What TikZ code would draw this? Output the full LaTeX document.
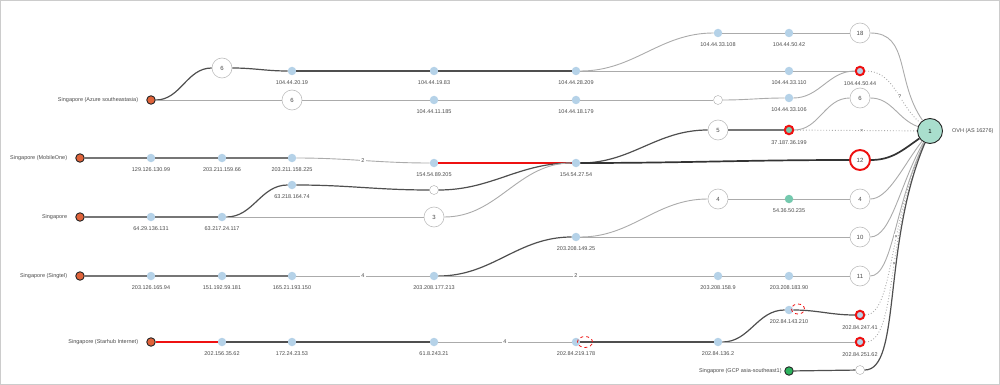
\documentclass[tikz,border=0pt]{standalone}
\usepackage{fontspec}
\setmainfont{Liberation Sans}
\usetikzlibrary{arrows,positioning,shapes.geometric}
\definecolor{linkdark}{HTML}{4F4F4F}
\definecolor{linkmid}{HTML}{767676}
\definecolor{linklight}{HTML}{ABABAB}
\definecolor{hopblue}{HTML}{B5D2E8}
\definecolor{srcorange}{HTML}{E0633A}
\definecolor{gcpgreen}{HTML}{2DB35E}
\definecolor{tealhop}{HTML}{74C9AE}
\definecolor{ovhteal}{HTML}{A9DECD}
\definecolor{txtgray}{HTML}{4A4A4A}
\definecolor{ringred}{HTML}{EE1111}
\tikzset{
  every label/.style={font=\fontsize{5.5}{6}\selectfont,text=txtgray,inner sep=0.5pt},
  srclab/.style={xshift=-2.5pt},
  gcplab/.style={xshift=3pt},
  ovhlab/.style={xshift=3.5pt},
  hop/.style={circle,fill=hopblue,minimum size=8.5pt,inner sep=0pt},
  tealnode/.style={hop,fill=tealhop},
  redhop/.style={hop,draw=ringred,line width=2pt,minimum size=8.5pt},
  emptyhop/.style={circle,draw=linklight,fill=white,minimum size=9pt,inner sep=0pt},
  numnode/.style={circle,draw=black!25,fill=white,line width=0.6pt,minimum size=20pt,inner sep=0pt,
    font=\fontsize{6}{7}\selectfont,text=txtgray},
  rednum/.style={numnode,draw=ringred,line width=1.9pt},
  src/.style={circle,fill=srcorange,draw=black!85,line width=0.9pt,minimum size=8.5pt,inner sep=0pt},
  gcp/.style={src,fill=gcpgreen},
  ovh/.style={circle,fill=ovhteal,draw=black!85,line width=0.9pt,minimum size=25pt,inner sep=0pt,
    font=\fontsize{6}{7}\selectfont},
  linkdark/.style={draw=linkdark,line width=1.2pt},
  linkmid/.style={draw=linkmid,line width=1.2pt},
  linklight/.style={draw=linklight,line width=0.9pt},
  linkred/.style={draw=ringred,line width=1.1pt},
  linkdot/.style={draw=linklight,dotted,line width=0.9pt},
  linkheavy/.style={draw=black!80,line width=1.7pt},
  elabel/.style={font=\fontsize{5.5}{6}\selectfont,fill=white,inner sep=1pt,text=txtgray},
  lossmark/.style={ellipse,draw=ringred,dashed,line width=0.8pt,inner sep=0pt}
}
\begin{document}
\begin{tikzpicture}[x=1pt,y=-1pt,label distance=5pt]
\useasboundingbox (0,0) rectangle (1000,385);
\draw[black!20,line width=1.2pt] (0.6,0.6) rectangle (999.4,384.4);
% destination
\node (ovh) [ovh,label={[ovhlab]right:OVH (AS 16276)}] at (930,131) {1};
% Singapore (Azure southeastasia)
\node (a0) [src,label={[srclab]left:Singapore (Azure southeastasia)}] at (151,100) {};
\node (a1) [numnode] at (222,68) {6};
\node (a2) [hop,label=below:104.44.20.19] at (292,71) {};
\node (a3) [hop,label=below:104.44.19.83] at (434,71) {};
\node (a4) [hop,label=below:104.44.28.209] at (576,71) {};
\node (a5) [hop,label=below:104.44.33.108] at (718,33) {};
\node (a6) [hop,label=below:104.44.50.42] at (789,33) {};
\node (a7) [numnode] at (860,33) {18};
\node (a8) [hop,label=below:104.44.33.110] at (789,71) {};
\node (a9) [redhop,label=below:104.44.50.44] at (860,71) {};
\node (a10) [numnode] at (292,100) {6};
\node (a11) [hop,label=below:104.44.11.185] at (434,100) {};
\node (a12) [hop,label=below:104.44.18.179] at (576,100) {};
\node (a13) [emptyhop] at (718,100) {};
\node (a14) [hop,label=below:104.44.33.106] at (789,98) {};
\node (a15) [numnode] at (860,98) {6};
% Singapore (MobileOne)
\node (b0) [src,label={[srclab]left:Singapore (MobileOne)}] at (80,158) {};
\node (b1) [hop,label=below:129.126.130.99] at (151,158) {};
\node (b2) [hop,label=below:203.211.159.66] at (222,158) {};
\node (b3) [hop,label=below:203.211.158.225] at (292,158) {};
\node (b4) [hop,label=below:154.54.89.205] at (434,163) {};
\node (b5) [hop,label=below:154.54.27.54] at (576,163) {};
\node (b6) [numnode] at (718,130) {5};
\node (b7) [redhop,fill=tealhop,label=below:37.187.36.199] at (789,130) {};
\node (b8) [rednum] at (860,160) {12};
% Singapore
\node (c0) [src,label={[srclab]left:Singapore}] at (80,217) {};
\node (c1) [hop,label=below:64.29.136.131] at (151,217) {};
\node (c2) [hop,label=below:63.217.24.117] at (222,217) {};
\node (c3) [hop,label=below:63.218.164.74] at (292,185) {};
\node (c4) [emptyhop] at (434,190) {};
\node (c5) [numnode] at (434,217) {3};
% Singapore (Singtel)
\node (d0) [src,label={[srclab]left:Singapore (Singtel)}] at (80,276) {};
\node (d1) [hop,label=below:203.126.165.94] at (151,276) {};
\node (d2) [hop,label=below:151.192.59.181] at (222,276) {};
\node (d3) [hop,label=below:165.21.193.150] at (292,276) {};
\node (d4) [hop,label=below:203.208.177.213] at (434,276) {};
\node (d5) [hop,label=below:203.208.149.25] at (576,237) {};
\node (d6) [numnode] at (718,199) {4};
\node (d7) [tealnode,label=below:54.36.50.235] at (789,199) {};
\node (d8) [numnode] at (860,199) {4};
\node (d9) [numnode] at (860,237) {10};
\node (d10) [hop,label=below:203.208.158.9] at (718,276) {};
\node (d11) [hop,label=below:203.208.183.90] at (789,276) {};
\node (d12) [numnode] at (860,276) {11};
% Singapore (Starhub Internet)
\node (e0) [src,label={[srclab]left:Singapore (Starhub Internet)}] at (151,342) {};
\node (e1) [hop,label=below:202.156.35.62] at (222,342) {};
\node (e2) [hop,label=below:172.24.23.53] at (292,342) {};
\node (e3) [hop,label=below:61.8.243.21] at (434,342) {};
\node (e4) [hop,label=below:202.84.219.178] at (576,342) {};
\node (e5) [hop,label=below:202.84.136.2] at (718,342) {};
\node (e6) [hop,label=below:202.84.143.210] at (789,310) {};
\node (e7) [redhop,label=below:202.84.247.41] at (860,315) {};
\node (e8) [redhop,label=below:202.84.251.62] at (860,342) {};
% Singapore (GCP asia-southeast1)
\node (f0) [gcp,label={[gcplab]left:Singapore (GCP asia-southeast1)}] at (789,371) {};
\node (f1) [emptyhop] at (860,370) {};
%
\path[linkdark] (a0) edge[out=0,in=180] (a1);
\path[linkdark] (a1) edge[out=0,in=180] (a2);
\path[linkdark] (a2) edge (a3);
\path[linkdark] (a3) edge (a4);
\path[linklight] (a4) edge[out=0,in=180] (a5);
\path[linklight] (a5) edge (a6);
\path[linklight] (a6) edge (a7);
\path[linklight] (a4) edge (a8);
\path[linklight] (a8) edge (a9);
\path[linklight] (a0) edge (a10);
\path[linklight] (a10) edge (a11);
\path[linklight] (a11) edge (a12);
\path[linklight] (a12) edge (a13);
\path[linklight] (a13) edge[out=0,in=180] (a14);
\path[linklight] (a14) edge[out=0,in=180] (a9);
\path[linklight] (a7) edge[out=0,in=125,in looseness=1.2] (ovh);
\path[linkdot] (a9) edge[out=0,in=140] node[elabel,pos=0.6] {?} (ovh);
\path[linklight] (a15) edge[out=0,in=160] (ovh);
%
\path[linkmid] (b0) edge (b1);
\path[linkmid] (b1) edge (b2);
\path[linkmid] (b2) edge (b3);
\path[linklight] (b3) edge[out=0,in=180] node[elabel,pos=0.5] {2} (b4);
\path[linkred] (b4) edge (b5);
\path[linkdark] (b5) edge[out=0,in=180] (b6);
\path[linkmid] (b6) edge (b7);
\path[linklight] (b7) edge[out=0,in=180] (a15);
\path[linkdot] (b7) edge node[elabel,pos=0.55] {×} (ovh);
\path[linkheavy] (b5) edge[out=0,in=180] (b8);
\path[linkheavy] (b8) edge[out=0,in=215] (ovh);
%
\path[linkmid] (c0) edge (c1);
\path[linkmid] (c1) edge (c2);
\path[linkdark] (c2) edge[out=0,in=180] (c3);
\path[linkdark] (c3) edge[out=0,in=180] (c4);
\path[linkdark] (c4) edge[out=0,in=180] (b5);
\path[linklight] (c2) edge (c5);
\path[linklight] (c5) edge[out=0,in=180] (b5);
%
\path[linkmid] (d0) edge (d1);
\path[linkmid] (d1) edge (d2);
\path[linkmid] (d2) edge (d3);
\path[linklight] (d3) edge node[elabel] {4} (d4);
\path[linkdark] (d4) edge[out=0,in=180] (d5);
\path[linklight] (d5) edge[out=0,in=180] (d6);
\path[linklight] (d6) edge (d7);
\path[linklight] (d7) edge (d8);
\path[linklight] (d8) edge[out=0,in=232,out looseness=0.6] (ovh);
\path[linklight] (d5) edge (d9);
\path[linklight] (d9) edge[out=0,in=240,out looseness=0.5,in looseness=1.1] (ovh);
\path[linklight] (d4) edge node[elabel] {2} (d10);
\path[linklight] (d10) edge (d11);
\path[linklight] (d11) edge (d12);
\path[linklight] (d12) edge[out=0,in=244,out looseness=0.4,in looseness=1.2] (ovh);
%
\path[linkred] (e0) edge (e1);
\path[linkdark] (e1) edge (e2);
\path[linkdark] (e2) edge (e3);
\path[linklight] (e3) edge node[elabel] {4} (e4);
\path[linkdark] (e4) edge (e5);
\path[linkdark] (e5) edge[out=0,in=180] (e6);
\path[linkdark] (e6) edge[out=0,in=180] (e7);
\path[linklight] (e5) edge (e8);
\path[linkdot] (e7) edge[out=0,in=245,out looseness=0.4,in looseness=1.2] node[elabel,pos=0.6] {×} (ovh);
\path[linkdot] (e8) edge[out=0,in=246,out looseness=0.4,in looseness=1.2] node[elabel,pos=0.55] {×} (ovh);
\path[linkdark] (f0) edge (f1);
\path[linkdark] (f1) edge[out=0,in=247,out looseness=0.4,in looseness=1.2] (ovh);
% lost-packet marks
\node (l1) [lossmark,minimum width=15pt,minimum height=11pt] at (585,342) {};
\node (l2) [lossmark,minimum width=13pt,minimum height=10pt] at (798,309) {};
\end{tikzpicture}
\end{document}
